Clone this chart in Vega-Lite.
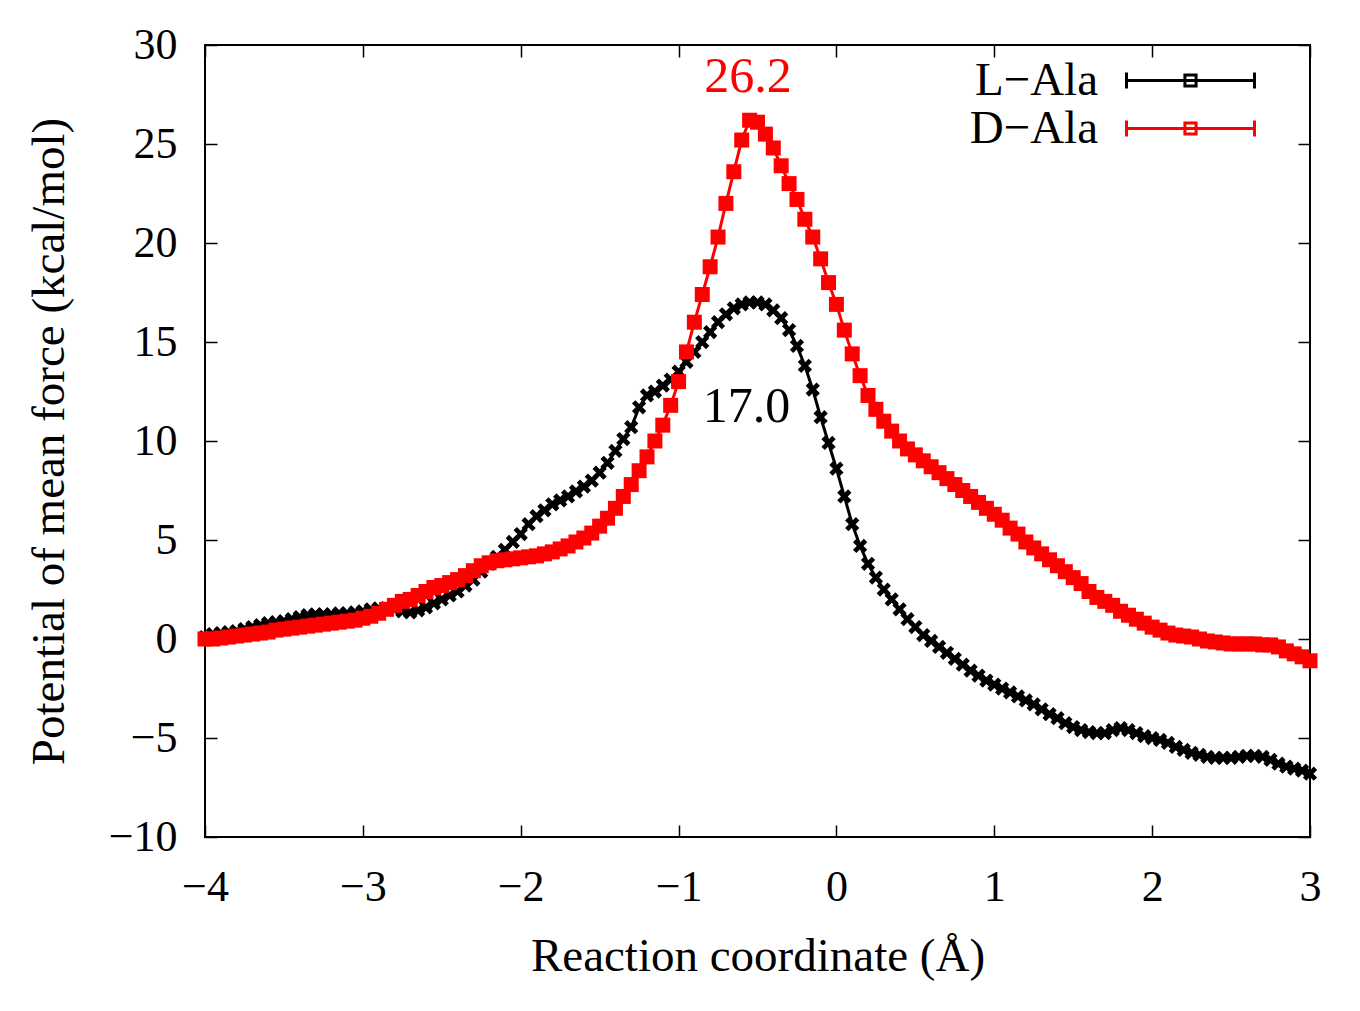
{
  "$schema": "https://vega.github.io/schema/vega-lite/v6.json",
  "width": 1105,
  "height": 792,
  "autosize": "none",
  "padding": {"left": 205, "top": 45, "right": 50, "bottom": 174},
  "background": "white",
  "config": {
    "font": "Liberation Serif",
    "view": {"stroke": "black", "strokeWidth": 2},
    "axis": {
      "grid": false,
      "domain": false,
      "labelFlush": false,
      "tickColor": "black",
      "tickWidth": 1.5,
      "tickSize": -12,
      "labelFont": "Liberation Serif",
      "labelFontSize": 44,
      "labelColor": "black",
      "titleFont": "Liberation Serif",
      "titleFontSize": 47,
      "titleFontWeight": "normal",
      "titleColor": "black"
    },
    "legend": {
      "orient": "none",
      "legendX": 962,
      "legendY": 12,
      "title": null,
      "padding": 0,
      "rowPadding": 0,
      "symbolSize": 256,
      "symbolStrokeWidth": 3,
      "labelFont": "Liberation Serif",
      "labelFontSize": 47,
      "labelColor": "black",
      "labelAlign": "right",
      "labelOffset": -116
    }
  },
  "data": {
    "values": [
      {"x": -4.00, "L": 0.1, "D": 0.0},
      {"x": -3.95, "L": 0.25, "D": 0.0},
      {"x": -3.90, "L": 0.3, "D": 0.05},
      {"x": -3.85, "L": 0.35, "D": 0.1},
      {"x": -3.80, "L": 0.4, "D": 0.15},
      {"x": -3.75, "L": 0.5, "D": 0.2},
      {"x": -3.70, "L": 0.6, "D": 0.25},
      {"x": -3.65, "L": 0.7, "D": 0.3},
      {"x": -3.60, "L": 0.8, "D": 0.35},
      {"x": -3.55, "L": 0.85, "D": 0.45},
      {"x": -3.50, "L": 0.9, "D": 0.5},
      {"x": -3.45, "L": 1.0, "D": 0.55},
      {"x": -3.40, "L": 1.1, "D": 0.6},
      {"x": -3.35, "L": 1.2, "D": 0.65},
      {"x": -3.30, "L": 1.25, "D": 0.7},
      {"x": -3.25, "L": 1.25, "D": 0.75},
      {"x": -3.20, "L": 1.25, "D": 0.8},
      {"x": -3.15, "L": 1.3, "D": 0.85},
      {"x": -3.10, "L": 1.3, "D": 0.9},
      {"x": -3.05, "L": 1.35, "D": 0.95},
      {"x": -3.00, "L": 1.4, "D": 1.05},
      {"x": -2.95, "L": 1.5, "D": 1.15},
      {"x": -2.90, "L": 1.55, "D": 1.3},
      {"x": -2.85, "L": 1.55, "D": 1.5},
      {"x": -2.80, "L": 1.5, "D": 1.7},
      {"x": -2.75, "L": 1.4, "D": 1.9},
      {"x": -2.70, "L": 1.35, "D": 2.0},
      {"x": -2.65, "L": 1.45, "D": 2.2},
      {"x": -2.60, "L": 1.6, "D": 2.4},
      {"x": -2.55, "L": 1.8, "D": 2.6},
      {"x": -2.50, "L": 2.0, "D": 2.7},
      {"x": -2.45, "L": 2.2, "D": 2.85},
      {"x": -2.40, "L": 2.4, "D": 3.0},
      {"x": -2.35, "L": 2.7, "D": 3.2},
      {"x": -2.30, "L": 3.0, "D": 3.45},
      {"x": -2.25, "L": 3.4, "D": 3.7},
      {"x": -2.20, "L": 3.8, "D": 3.85},
      {"x": -2.15, "L": 4.15, "D": 3.95},
      {"x": -2.10, "L": 4.5, "D": 4.0},
      {"x": -2.05, "L": 4.9, "D": 4.05},
      {"x": -2.00, "L": 5.3, "D": 4.1},
      {"x": -1.95, "L": 5.8, "D": 4.15},
      {"x": -1.90, "L": 6.2, "D": 4.2},
      {"x": -1.85, "L": 6.5, "D": 4.3},
      {"x": -1.80, "L": 6.8, "D": 4.4},
      {"x": -1.75, "L": 7.0, "D": 4.55},
      {"x": -1.70, "L": 7.2, "D": 4.7},
      {"x": -1.65, "L": 7.45, "D": 4.9},
      {"x": -1.60, "L": 7.7, "D": 5.1},
      {"x": -1.55, "L": 8.0, "D": 5.35},
      {"x": -1.50, "L": 8.4, "D": 5.7},
      {"x": -1.45, "L": 8.9, "D": 6.1},
      {"x": -1.40, "L": 9.5, "D": 6.6},
      {"x": -1.35, "L": 10.1, "D": 7.2},
      {"x": -1.30, "L": 10.7, "D": 7.8},
      {"x": -1.25, "L": 11.7, "D": 8.5},
      {"x": -1.20, "L": 12.3, "D": 9.2},
      {"x": -1.15, "L": 12.5, "D": 10.0},
      {"x": -1.10, "L": 12.8, "D": 10.8},
      {"x": -1.05, "L": 13.1, "D": 11.8},
      {"x": -1.00, "L": 13.5, "D": 13.0},
      {"x": -0.95, "L": 14.0, "D": 14.5},
      {"x": -0.90, "L": 14.5, "D": 16.0},
      {"x": -0.85, "L": 15.0, "D": 17.4},
      {"x": -0.80, "L": 15.5, "D": 18.8},
      {"x": -0.75, "L": 16.0, "D": 20.3},
      {"x": -0.70, "L": 16.4, "D": 22.0},
      {"x": -0.65, "L": 16.7, "D": 23.6},
      {"x": -0.60, "L": 16.9, "D": 25.2},
      {"x": -0.55, "L": 17.0, "D": 26.2},
      {"x": -0.50, "L": 17.0, "D": 26.1},
      {"x": -0.45, "L": 16.9, "D": 25.5},
      {"x": -0.40, "L": 16.6, "D": 24.8},
      {"x": -0.35, "L": 16.2, "D": 23.9},
      {"x": -0.30, "L": 15.6, "D": 23.0},
      {"x": -0.25, "L": 14.8, "D": 22.2},
      {"x": -0.20, "L": 13.8, "D": 21.2},
      {"x": -0.15, "L": 12.6, "D": 20.3},
      {"x": -0.10, "L": 11.2, "D": 19.2},
      {"x": -0.05, "L": 9.9, "D": 18.0},
      {"x": 0.00, "L": 8.6, "D": 16.9},
      {"x": 0.05, "L": 7.2, "D": 15.6},
      {"x": 0.10, "L": 5.8, "D": 14.4},
      {"x": 0.15, "L": 4.7, "D": 13.3},
      {"x": 0.20, "L": 3.8, "D": 12.3},
      {"x": 0.25, "L": 3.1, "D": 11.6},
      {"x": 0.30, "L": 2.5, "D": 11.0},
      {"x": 0.35, "L": 2.0, "D": 10.5},
      {"x": 0.40, "L": 1.5, "D": 10.0},
      {"x": 0.45, "L": 1.0, "D": 9.6},
      {"x": 0.50, "L": 0.6, "D": 9.3},
      {"x": 0.55, "L": 0.2, "D": 9.0},
      {"x": 0.60, "L": -0.1, "D": 8.7},
      {"x": 0.65, "L": -0.4, "D": 8.4},
      {"x": 0.70, "L": -0.7, "D": 8.1},
      {"x": 0.75, "L": -1.0, "D": 7.8},
      {"x": 0.80, "L": -1.3, "D": 7.5},
      {"x": 0.85, "L": -1.6, "D": 7.2},
      {"x": 0.90, "L": -1.85, "D": 6.9},
      {"x": 0.95, "L": -2.1, "D": 6.6},
      {"x": 1.00, "L": -2.3, "D": 6.3},
      {"x": 1.05, "L": -2.5, "D": 6.0},
      {"x": 1.10, "L": -2.7, "D": 5.6},
      {"x": 1.15, "L": -2.9, "D": 5.3},
      {"x": 1.20, "L": -3.1, "D": 4.9},
      {"x": 1.25, "L": -3.3, "D": 4.6},
      {"x": 1.30, "L": -3.55, "D": 4.3},
      {"x": 1.35, "L": -3.8, "D": 4.0},
      {"x": 1.40, "L": -4.0, "D": 3.7},
      {"x": 1.45, "L": -4.25, "D": 3.4},
      {"x": 1.50, "L": -4.45, "D": 3.1},
      {"x": 1.55, "L": -4.6, "D": 2.8},
      {"x": 1.60, "L": -4.7, "D": 2.4},
      {"x": 1.65, "L": -4.75, "D": 2.1},
      {"x": 1.70, "L": -4.75, "D": 1.9},
      {"x": 1.75, "L": -4.6, "D": 1.7},
      {"x": 1.80, "L": -4.5, "D": 1.4},
      {"x": 1.85, "L": -4.6, "D": 1.2},
      {"x": 1.90, "L": -4.75, "D": 1.0},
      {"x": 1.95, "L": -4.9, "D": 0.8},
      {"x": 2.00, "L": -5.0, "D": 0.6},
      {"x": 2.05, "L": -5.1, "D": 0.45},
      {"x": 2.10, "L": -5.25, "D": 0.3},
      {"x": 2.15, "L": -5.45, "D": 0.2},
      {"x": 2.20, "L": -5.6, "D": 0.15},
      {"x": 2.25, "L": -5.75, "D": 0.1},
      {"x": 2.30, "L": -5.85, "D": 0.0},
      {"x": 2.35, "L": -5.95, "D": -0.1},
      {"x": 2.40, "L": -6.0, "D": -0.15},
      {"x": 2.45, "L": -6.0, "D": -0.2},
      {"x": 2.50, "L": -6.0, "D": -0.25},
      {"x": 2.55, "L": -5.95, "D": -0.25},
      {"x": 2.60, "L": -5.9, "D": -0.25},
      {"x": 2.65, "L": -5.9, "D": -0.25},
      {"x": 2.70, "L": -5.95, "D": -0.3},
      {"x": 2.75, "L": -6.1, "D": -0.3},
      {"x": 2.80, "L": -6.3, "D": -0.4},
      {"x": 2.85, "L": -6.45, "D": -0.6},
      {"x": 2.90, "L": -6.55, "D": -0.75},
      {"x": 2.95, "L": -6.65, "D": -0.9},
      {"x": 3.00, "L": -6.8, "D": -1.1}
    ]
  },
  "transform": [{"fold": ["L", "D"], "as": ["s", "pmf"]}],
  "layer": [
    {
      "mark": {"type": "line", "strokeWidth": 3},
      "encoding": {
        "x": {
          "field": "x", "type": "quantitative",
          "scale": {"domain": [-4, 3], "nice": false, "zero": false},
          "axis": {"values": [-4, -3, -2, -1, 0, 1, 2, 3], "labelPadding": 40, "title": "Reaction coordinate (Å)", "titlePadding": 24}
        },
        "y": {
          "field": "pmf", "type": "quantitative",
          "scale": {"domain": [-10, 30], "nice": false, "zero": false},
          "axis": {"values": [-10, -5, 0, 5, 10, 15, 20, 25, 30], "labelPadding": 40, "title": "Potential of mean force (kcal/mol)", "titlePadding": 35}
        },
        "stroke": {
          "field": "s", "type": "nominal",
          "scale": {"domain": ["L", "D"], "range": ["#000000", "#ff0000"]},
          "legend": {
            "labelExpr": "datum.label == 'L' ? 'L−Ala' : 'D−Ala'",
            "symbolType": "M-8,0H8M-8,-1V1M8,-1V1M-0.7,-0.7H0.7V0.7H-0.7Z",
            "symbolFillColor": "transparent",
            "symbolStrokeWidth": 3
          }
        }
      }
    },
    {
      "mark": {"type": "point", "filled": true, "opacity": 1, "size": 225, "strokeWidth": 0},
      "encoding": {
        "x": {"field": "x", "type": "quantitative", "axis": {"orient": "top", "values": [-4, -3, -2, -1, 0, 1, 2, 3], "labels": false, "title": null}},
        "y": {"field": "pmf", "type": "quantitative", "axis": {"orient": "right", "values": [-10, -5, 0, 5, 10, 15, 20, 25, 30], "labels": false, "title": null}},
        "fill": {
          "field": "s", "type": "nominal",
          "scale": {"domain": ["L", "D", "none"], "range": ["#000000", "#ff0000", "#888888"]},
          "legend": null
        },
        "shape": {
          "field": "s", "type": "nominal", "legend": null,
          "scale": {"domain": ["L", "D", "none"], "range": ["M-0.95,-0.5L-0.5,-0.95L0,-0.45L0.5,-0.95L0.95,-0.5L0.45,0L0.95,0.5L0.5,0.95L0,0.45L-0.5,0.95L-0.95,0.5L-0.45,0Z", "square", "circle"]}
        },
        "order": {"field": "s", "sort": "descending"}
      }
    },
    {
      "data": {
        "values": [
          {"x": -0.56, "y": 28.4, "t": "26.2", "c": "#ff0000"},
          {"x": -0.57, "y": 11.7, "t": "17.0", "c": "#000000"}
        ]
      },
      "mark": {"type": "text", "font": "Liberation Serif", "fontSize": 50, "align": "center", "baseline": "middle"},
      "encoding": {
        "x": {"field": "x", "type": "quantitative", "axis": null},
        "y": {"field": "y", "type": "quantitative", "axis": null},
        "text": {"field": "t"},
        "color": {"field": "c", "type": "nominal", "scale": null}
      }
    }
  ],
  "resolve": {"axis": {"x": "independent", "y": "independent"}}
}
